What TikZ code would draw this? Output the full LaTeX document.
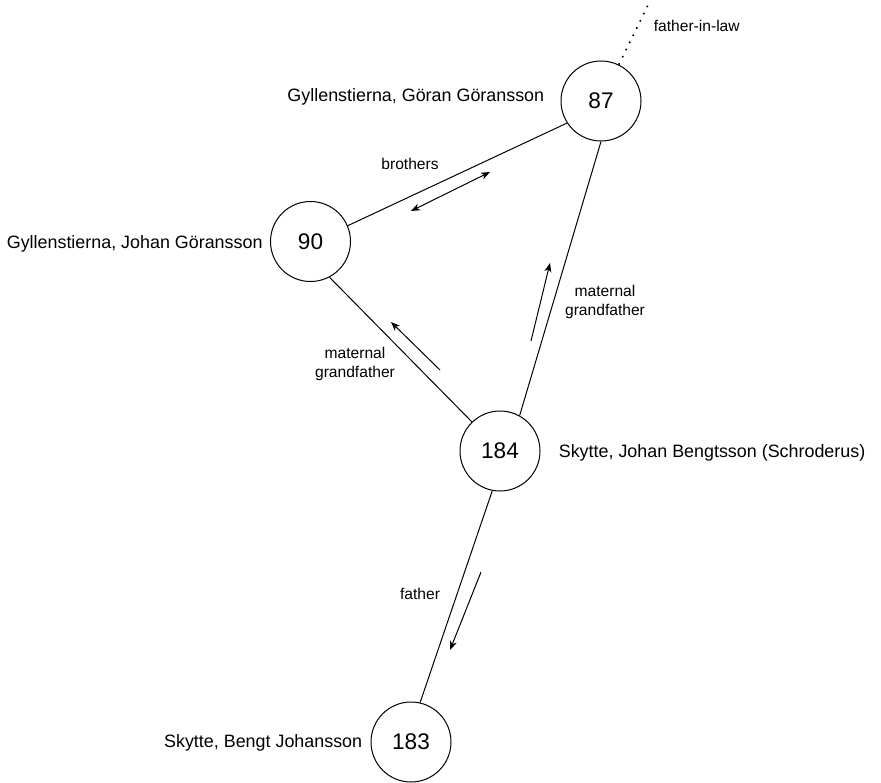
\documentclass[tikz,border=0pt]{standalone}
\usepackage{fontspec}
\setmainfont{Liberation Sans}
\usetikzlibrary{arrows.meta}

\begin{document}
\begin{tikzpicture}[x=1pt, y=-1pt, line width=1pt,
    >={Stealth[length=9pt, width=7pt, inset=2.5pt]},
    person/.style={draw, circle, minimum size=80pt, inner sep=0pt, font=\fontsize{22.6}{27}\selectfont},
    who/.style={font=\fontsize{17.9}{21}\selectfont},
    rel/.style={font=\fontsize{15.6}{19}\selectfont, align=center}]
    \useasboundingbox (0,0) rectangle (881,782);

    % Draw persons
    \foreach \id/\x/\y in {87/601/101, 90/310.5/241.5, 184/500/451, 183/411/742}
      \node[person] (p\id) at (\x,\y) {\id};

    % Draw names
    \node[who, anchor=base east] (n87) at (548,101) {Gyllenstierna, Göran Göransson};
    \node[who, anchor=base west] (n90) at (3,248) {Gyllenstierna, Johan Göransson};
    \node[who, anchor=base west] (n184) at (555,457) {Skytte, Johan Bengtsson (Schroderus)};
    \node[who, anchor=base east] (n183) at (366,747) {Skytte, Bengt Johansson};

    % Draw relations
    \draw (p90.23) -- (p87.-147);
    \draw (p87.south) -- (p184.61);
    \draw (p90.-62) -- (p184.134);
    \draw (p184.-101) -- (p183.77);
    \coordinate (inlaw) at (648,5);
    \draw[line width=1.6pt, dash pattern=on 1.6pt off 6.4pt] (p87) -- (inlaw);

    % Draw direction arrows
    \coordinate (b1) at (411,211);
    \coordinate (b2) at (490,172);
    \draw[<->] (b1) -- (b2);
    \foreach \a/\sx/\sy/\tx/\ty in {l/440/370/391/322, r/531/341/550/263, f/481/572/450/650} {
      \coordinate (\a s) at (\sx,\sy);
      \coordinate (\a t) at (\tx,\ty);
      \draw[->] (\a s) -- (\a t);
    }

    % Draw relation labels
    \node[rel, anchor=base] (lbro) at (410,169) {brothers};
    \node[rel] (lmg90) at (355,364) {maternal\\grandfather};
    \node[rel] (lmg87) at (605,302) {maternal\\grandfather};
    \node[rel, anchor=base] (lfa) at (420,599) {father};
    \node[rel, anchor=base west] (lfil) at (650,31) {father-in-law};
  \end{tikzpicture}
\end{document}
